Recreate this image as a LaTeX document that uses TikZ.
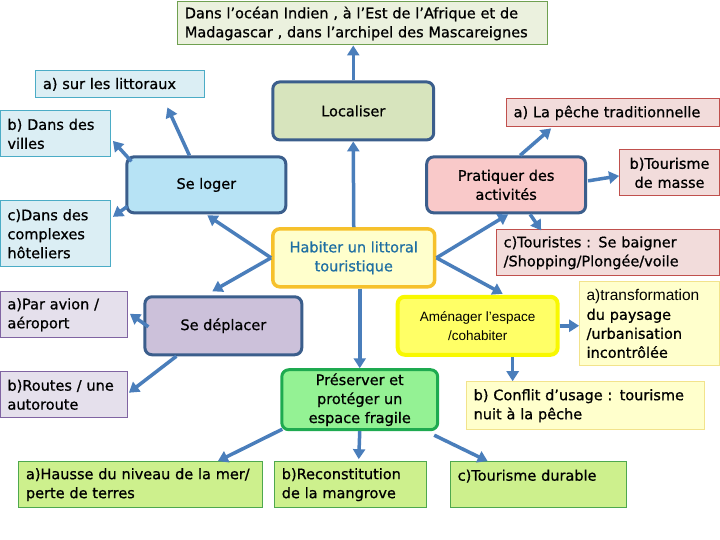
\documentclass[tikz,border=0pt]{standalone}
\usepackage{fontspec}
\setmainfont{DejaVu Sans}[RawFeature={embolden=0.8}]
\newfontfamily\thinfont{Liberation Sans}
\usetikzlibrary{arrows.meta,calc}

\definecolor{arrowblue}{HTML}{4A7EBB}
\definecolor{mainblue}{HTML}{3B5E8C}
\definecolor{topfill}{HTML}{EBF1DE}
\definecolor{topdraw}{HTML}{6FA050}
\definecolor{bluefill}{HTML}{DBEEF4}
\definecolor{bluedraw}{HTML}{4BACC6}
\definecolor{locfill}{HTML}{D7E4BD}
\definecolor{logfill}{HTML}{B7E3F5}
\definecolor{pratfill}{HTML}{F9C9C9}
\definecolor{pinkfill}{HTML}{F2DCDB}
\definecolor{pinkdraw}{HTML}{C0504D}
\definecolor{depfill}{HTML}{CCC1DA}
\definecolor{lavfill}{HTML}{E5E0EC}
\definecolor{lavdraw}{HTML}{8064A2}
\definecolor{habfill}{HTML}{FFFFCC}
\definecolor{habdraw}{HTML}{F6C12C}
\definecolor{habtext}{HTML}{1F6FA3}
\definecolor{amenfill}{HTML}{FFFF66}
\definecolor{amendraw}{HTML}{F8F800}
\definecolor{yelfill}{HTML}{FFFFCC}
\definecolor{yeldraw}{HTML}{F2E38C}
\definecolor{presfill}{HTML}{94F294}
\definecolor{presdraw}{HTML}{1EAA50}
\definecolor{greenfill}{HTML}{CDF08D}
\definecolor{greendraw}{HTML}{4EA84E}

\begin{document}
\begin{tikzpicture}[x=1pt, y=-1pt,
    every node/.style={font=\fontsize{14.5}{19}\selectfont},
    leaf/.style={draw, line width=1pt, inner xsep=7pt, inner ysep=3pt, align=left},
    main/.style={draw=mainblue, line width=3pt, rounded corners=7pt, align=center},
    arr/.style={draw=arrowblue, line width=3.5pt, -{Triangle[length=10pt,width=12pt]}}]

    % Fix the page size
    \fill[white] (0,0) rectangle (720,540);

    % Draw the title box
    \node[leaf, draw=topdraw, fill=topfill, text width=356pt, minimum height=43pt] (top) at (363,23.5)
        {Dans l’océan Indien , à l’Est de l’Afrique et de\\Madagascar , dans l’archipel des Mascareignes};

    % Draw the central box
    \node[main, draw=habdraw, line width=3.5pt, fill=habfill, text=habtext, minimum width=162pt, minimum height=58pt] (hab) at (354,258)
        {Habiter un littoral\\touristique};

    % Draw the main boxes around it
    \node[main, fill=locfill, minimum width=161pt, minimum height=58pt] (loc) at (353.5,111) {Localiser};
    \node[main, fill=logfill, minimum width=159pt, minimum height=56pt] (loger) at (206.5,185) {Se loger};
    \node[main, fill=pratfill, minimum width=159pt, minimum height=56pt] (prat) at (506.5,185) {Pratiquer des\\activités};
    \node[main, fill=depfill, minimum width=157pt, minimum height=58pt] (depl) at (223.5,326) {Se déplacer};
    \node[main, draw=amendraw, line width=4pt, fill=amenfill, minimum width=160pt, minimum height=58pt,
        font=\thinfont\fontsize{13.5}{19}\selectfont] (amen) at (478,326)
        {Aménager l’espace\\/cohabiter};
    \node[main, draw=presdraw, fill=presfill, minimum width=156pt, minimum height=60pt] (pres) at (360,400)
        {Préserver et\\protéger un\\espace fragile};

    % Draw the boxes of Se loger
    \node[leaf, draw=bluedraw, fill=bluefill, text width=155pt, minimum height=27pt] (litt) at (120.5,84.5) {a) sur les littoraux};
    \node[leaf, draw=bluedraw, fill=bluefill, text width=96pt, minimum height=46pt] (villes) at (55.5,134) {b) Dans des\\villes};
    \node[leaf, draw=bluedraw, fill=bluefill, text width=96pt, minimum height=66pt] (cplx) at (55.5,234) {c)Dans des\\complexes\\hôteliers};

    % Draw the boxes of Pratiquer
    \node[leaf, draw=pinkdraw, fill=pinkfill, text width=199pt, minimum height=28pt] (peche) at (613.5,113) {a) La pêche traditionnelle};
    \node[leaf, draw=pinkdraw, fill=pinkfill, text width=86pt, minimum height=46pt, align=center] (tour) at (670,173) {b)Tourisme\\de masse};
    \node[leaf, draw=pinkdraw, fill=pinkfill, text width=209pt, minimum height=46pt] (tst) at (608.5,253) {c)Touristes : Se baigner\\/Shopping/Plongée/voile};

    % Draw the boxes of Se deplacer
    \node[leaf, draw=lavdraw, fill=lavfill, text width=113pt, minimum height=46pt] (avion) at (64,315) {a)Par avion /\\aéroport};
    \node[leaf, draw=lavdraw, fill=lavfill, text width=113pt, minimum height=46pt] (routes) at (64,395) {b)Routes / une\\autoroute};

    % Draw the boxes of Amenager
    \node[leaf, draw=yeldraw, fill=yelfill, text width=126pt, minimum height=84pt] (transfo) at (650,324)
        {{\thinfont\fontsize{15.5}{19}\selectfont a)transformation}\\du paysage\\/urbanisation\\incontrôlée};
    \node[leaf, draw=yeldraw, fill=yelfill, text width=224pt, minimum height=48pt] (conf) at (586,406)
        {b) Conflit d’usage : tourisme\\nuit à la pêche};

    % Draw the boxes of Preserver
    \node[leaf, draw=greendraw, fill=greenfill, text width=230pt, minimum height=46pt] (hausse) at (141,485) {a)Hausse du niveau de la mer/\\perte de terres};
    \node[leaf, draw=greendraw, fill=greenfill, text width=138pt, minimum height=46pt] (recon) at (351,485) {b)Reconstitution\\de la mangrove};
    \node[leaf, draw=greendraw, fill=greenfill, text width=162pt, minimum height=46pt] (durable) at (539,485) {c)Tourisme durable\\\mbox{}};

    % Arrows out of the central box
    \draw[arr] (hab.north) -- (loc.south);
    \draw[arr] (loc.north) -- (loc.north |- top.south);
    \draw[arr] (hab.west) -- ($(loger.south)+(1,1)$);
    \draw[arr] (hab.west) -- ($(depl.north)+(-11,-4)$);
    \draw[arr] (hab.east) -- ($(prat.south)+(2,0)$);
    \draw[arr] (hab.east) -- ($(amen.north)+(25,-1)$);
    \draw[arr] ($(hab.south)+(6,0)$) -- (pres.north);

    % Arrows of Se loger
    \draw[arr] ($(loger.north)+(-17,0)$) -- ($(litt.south)+(47,9)$);
    \draw[arr] ($(loger.north west)+(6,6)$) -- ($(villes.east)+(2,7)$);
    \draw[arr] ($(loger.south west)+(2,-8)$) -- ($(cplx.east)+(2,-17)$);

    % Arrows of Pratiquer
    \draw[arr] ($(prat.north)+(14,0)$) -- ($(peche.south)+(-62,1)$);
    \draw[arr] ($(prat.east)+(1,-4)$) -- ($(tour.west)+(0,3)$);
    \draw[arr] ($(prat.south)+(24,0)$) -- ($(tst.north)+(-67,1)$);

    % Arrows of Se deplacer
    \draw[arr] ($(depl.west)+(5,1)$) -- ($(avion.east)+(2,-1)$);
    \draw[arr] ($(depl.south west)+(33,0)$) -- ($(routes.east)+(1,-2)$);

    % Arrows of Amenager
    \draw[arr] (amen.east) -- (amen.east -| transfo.west);
    \draw[arr] ($(amen.south)+(35,0)$) -- ($(conf.north)+(-73,0)$);

    % Arrows of Preserver
    \draw[arr] ($(pres.south west)+(2,-2)$) -- ($(hausse.north)+(77,0)$);
    \draw[arr] ($(pres.south)+(0,0)$) -- ($(recon.north)+(8,-2)$);
    \draw[arr] ($(pres.south east)+(-5,4)$) -- ($(durable.north)+(-51,0)$);

\end{tikzpicture}
\end{document}
